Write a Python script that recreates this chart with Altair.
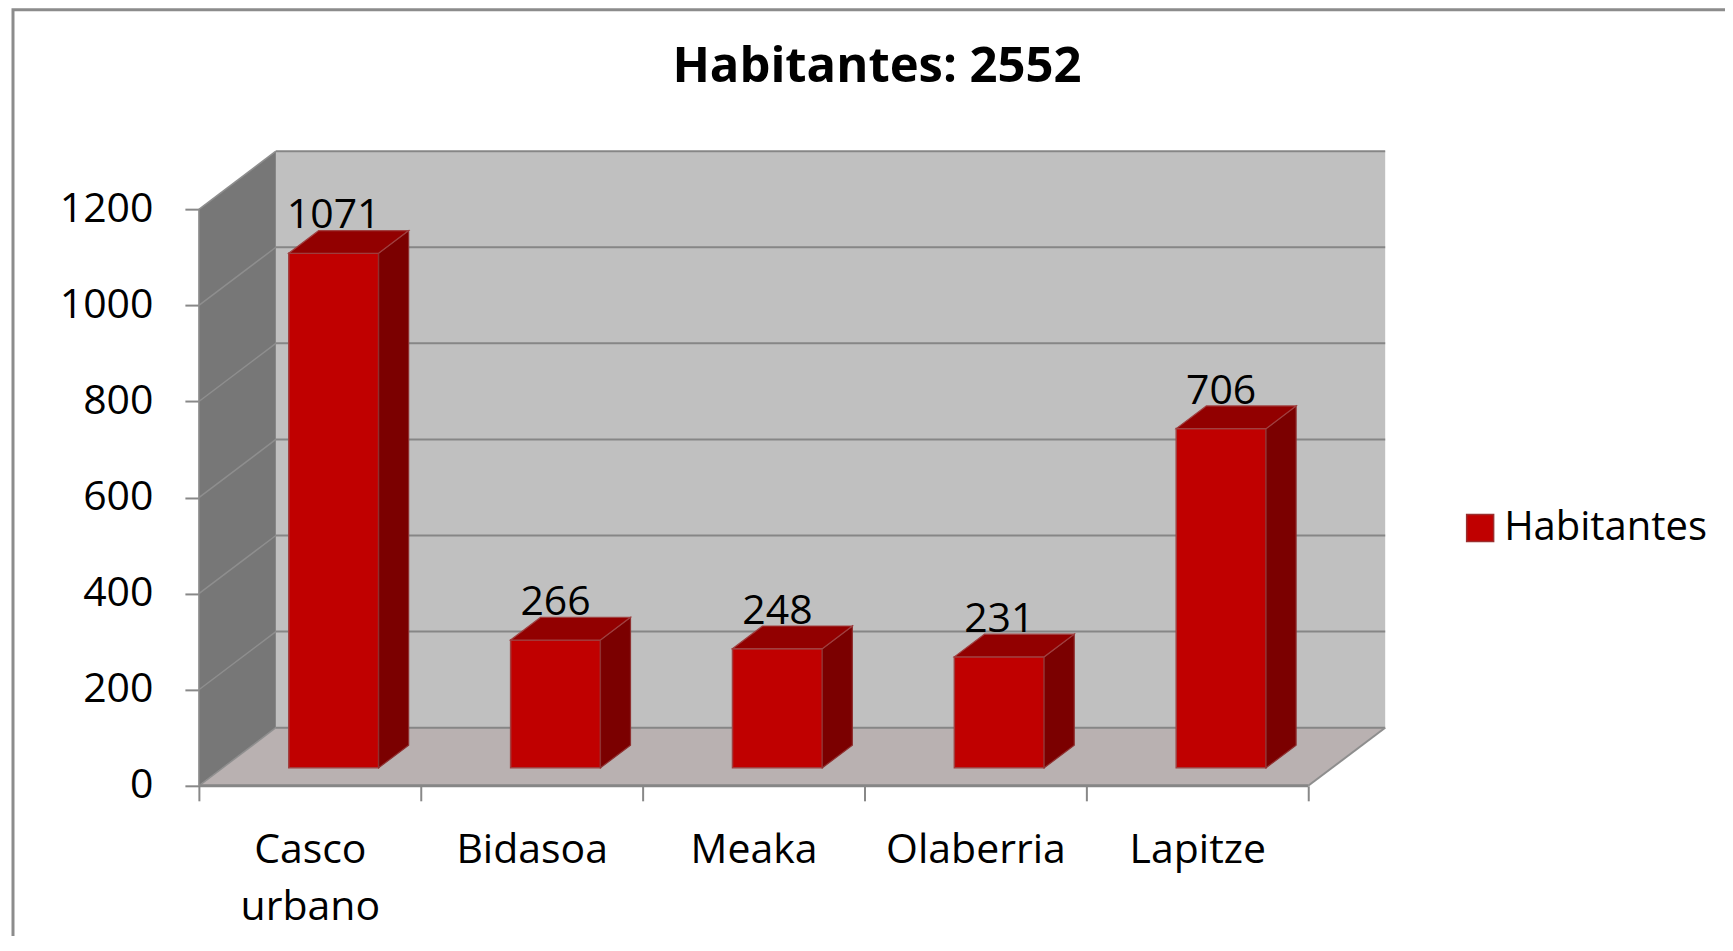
import json
import pandas as pd
import altair as alt

# ---------------- data ----------------
CATEGORIES = ["Casco urbano", "Bidasoa", "Meaka", "Olaberria", "Lapitze"]
VALUES = [1071, 266, 248, 231, 706]
SERIES = "Habitantes"
TITLE = "Habitantes: 2552"
Y_TICKS = [0, 200, 400, 600, 800, 1000, 1200]

# ---------------- 3D projection / style constants ----------------
N = len(CATEGORIES)
YMAX = Y_TICKS[-1]
DEPTH_X = 0.347      # depth offset in category units
DEPTH_Y = 121        # depth offset in value units
F0, F1 = 0.31, 0.70  # bar depth fractions (front / back)
BAR_W = 0.405
FONT = "Open Sans"

PLOT_W, PLOT_H = 1187, 635

XS = alt.Scale(domain=[0, N + DEPTH_X], nice=False, zero=False)
YS = alt.Scale(domain=[0, YMAX + DEPTH_Y], nice=False, zero=False)

# ---------------- axes ----------------
label_arr = json.dumps(CATEGORIES)
x_axis = alt.Axis(values=list(range(N + 1)), title="", grid=False, domain=False,
                  tickSize=15, tickColor="#888888", tickWidth=2,
                  labelExpr=f"split({label_arr}[datum.value] || '', ' ')",
                  labelOffset=111, labelPadding=30, labelBaseline="top",
                  labelAlign="center", labelFlush=False, labelOverlap=False,
                  labelFont=FONT, labelFontSize=41, labelLineHeight=57,
                  labelColor="black", labelLimit=400)
y_axis = alt.Axis(values=Y_TICKS, format="d", title="", grid=False, domain=False,
                  tickSize=14, tickColor="#888888", tickWidth=2,
                  labelPadding=32, labelFont=FONT, labelFontSize=41,
                  labelColor="black", labelOverlap=False, labelFlush=False,
                  labelLimit=400)


def X(f, **kw):
    return alt.X(f, type="quantitative", scale=XS, axis=x_axis, **kw)


def Y(f, **kw):
    return alt.Y(f, type="quantitative", scale=YS, axis=y_axis, **kw)


# ---------------- derived geometry tables ----------------
back_df = pd.DataFrame({"x0": [DEPTH_X], "x1": [N + DEPTH_X],
                        "y0": [DEPTH_Y], "y1": [YMAX + DEPTH_Y]})
lwall_df = pd.DataFrame({"x": [0, DEPTH_X], "lo": [0, DEPTH_Y],
                         "hi": [YMAX, YMAX + DEPTH_Y]})
floor_df = pd.DataFrame({"y": [0, DEPTH_Y], "lo": [0, DEPTH_X],
                         "hi": [N, N + DEPTH_X]})
bgrid_df = pd.DataFrame({"x0": DEPTH_X, "x1": N + DEPTH_X,
                         "y": [v + DEPTH_Y for v in Y_TICKS]})
lgrid_df = pd.DataFrame({"x0": 0.0, "x1": DEPTH_X,
                         "y0": Y_TICKS, "y1": [v + DEPTH_Y for v in Y_TICKS]})
redge_df = pd.DataFrame({"x0": [float(N)], "x1": [N + DEPTH_X],
                         "y0": [0.0], "y1": [float(DEPTH_Y)]})
fedge_df = pd.DataFrame({"x0": [0.0], "x1": [float(N)], "y": [0.0]})
wedge_df = pd.DataFrame({"x": [0.0], "y0": [0.0], "y1": [float(YMAX)]})

front_rows, side_rows, top_rows, lab_rows = [], [], [], []
for i, (c, v) in enumerate(zip(CATEGORIES, VALUES)):
    xl = i + 0.5 - BAR_W / 2
    xr = i + 0.5 + BAR_W / 2
    ox0, oy0 = F0 * DEPTH_X, F0 * DEPTH_Y
    ox1, oy1 = F1 * DEPTH_X, F1 * DEPTH_Y
    front_rows.append({"cat": c, "serie": SERIES, "x0": xl + ox0, "x1": xr + ox0,
                       "y0": oy0, "y1": v + oy0})
    side_rows.append({"cat": c, "x": xr + ox0, "lo": oy0, "hi": v + oy0})
    side_rows.append({"cat": c, "x": xr + ox1, "lo": oy1, "hi": v + oy1})
    top_rows.append({"cat": c, "y": v + oy0, "lo": xl + ox0, "hi": xr + ox0})
    top_rows.append({"cat": c, "y": v + oy1, "lo": xl + ox1, "hi": xr + ox1})
    lab_rows.append({"cat": c, "v": v, "x": i + 0.5 + ox0, "y": v + oy0})

front_df = pd.DataFrame(front_rows)
side_df = pd.DataFrame(side_rows)
top_df = pd.DataFrame(top_rows)
lab_df = pd.DataFrame(lab_rows)
one = pd.DataFrame({"k": [0]})

# ---------------- layers ----------------
frame = alt.Chart(one).mark_rect(fill="white", fillOpacity=0, stroke="#8c8c8c",
                                 strokeWidth=3).encode(
    x=alt.value(-186), y=alt.value(-141.5), x2=alt.value(1700), y2=alt.value(900))

title = alt.Chart(one).mark_text(text=TITLE, font=FONT, fontSize=49,
                                 fontWeight="bold", align="center",
                                 baseline="alphabetic", color="black").encode(
    x=alt.value(678.5), y=alt.value(-69))

back = alt.Chart(back_df).mark_rect(fill="#C0C0C0").encode(
    x=X("x0"), x2="x1", y=Y("y0"), y2="y1")

lwall = alt.Chart(lwall_df).mark_area(fill="#777777", orient="vertical").encode(
    x=X("x"), y=Y("lo", stack=None), y2="hi")

floor = alt.Chart(floor_df).mark_area(fill="#B9B1B1", orient="horizontal").encode(
    y=Y("y"), x=X("lo", stack=None), x2="hi")

bgrid = alt.Chart(bgrid_df).mark_rule(color="#868686", strokeWidth=2).encode(
    x=X("x0"), x2="x1", y=Y("y"))

lgrid = alt.Chart(lgrid_df).mark_rule(color="#8E8E8E", strokeWidth=1.5).encode(
    x=X("x0"), x2="x1", y=Y("y0"), y2="y1")

redge = alt.Chart(redge_df).mark_rule(color="#8E8E8E", strokeWidth=2).encode(
    x=X("x0"), x2="x1", y=Y("y0"), y2="y1")

fedge = alt.Chart(fedge_df).mark_rule(color="#868686", strokeWidth=3).encode(
    x=X("x0"), x2="x1", y=Y("y"))

wedge = alt.Chart(wedge_df).mark_rule(color="#909090", strokeWidth=1.5).encode(
    x=X("x"), y=Y("y0"), y2="y1")

front = alt.Chart(front_df).mark_rect(stroke="#A04040", strokeWidth=1.5).encode(
    x=X("x0"), x2="x1", y=Y("y0"), y2="y1",
    color=alt.Color("serie:N",
                    scale=alt.Scale(domain=[SERIES], range=["#C00000"]),
                    legend=alt.Legend(orient="none", legendX=1262, legendY=357,
                                      title="", symbolType="square",
                                      symbolSize=729, symbolStrokeColor="#9B2F2F",
                                      symbolStrokeWidth=1.5, labelFont=FONT,
                                      labelFontSize=40, labelColor="black",
                                      labelOffset=4, labelLimit=400, padding=0)))

side = alt.Chart(side_df).mark_area(fill="#7B0000", stroke="#8E3030",
                                    strokeWidth=1.2, orient="vertical").encode(
    x=X("x"), y=Y("lo", stack=None), y2="hi", detail="cat:N")

top = alt.Chart(top_df).mark_area(fill="#920000", stroke="#A04040",
                                  strokeWidth=1.2, orient="horizontal").encode(
    y=Y("y"), x=X("lo", stack=None), x2="hi", detail="cat:N")

labels = alt.Chart(lab_df).mark_text(font=FONT, fontSize=41, baseline="alphabetic",
                                     align="center", dy=-25, color="black").encode(
    x=X("x"), y=Y("y"), text=alt.Text("v:Q", format="d"))

chart = alt.layer(back, lwall, floor, bgrid, lgrid, redge, fedge, wedge,
                  front, side, top, labels, title, frame).properties(
    width=PLOT_W, height=PLOT_H,
    autosize=alt.AutoSizeParams(type="none"),
    padding={"left": 191, "top": 143, "right": 340, "bottom": 150},
).configure(background="white", view=alt.ViewConfig(stroke="transparent",
                                                      strokeWidth=0))

chart.save("out.html", embed_options={"renderer": "svg", "actions": False})
